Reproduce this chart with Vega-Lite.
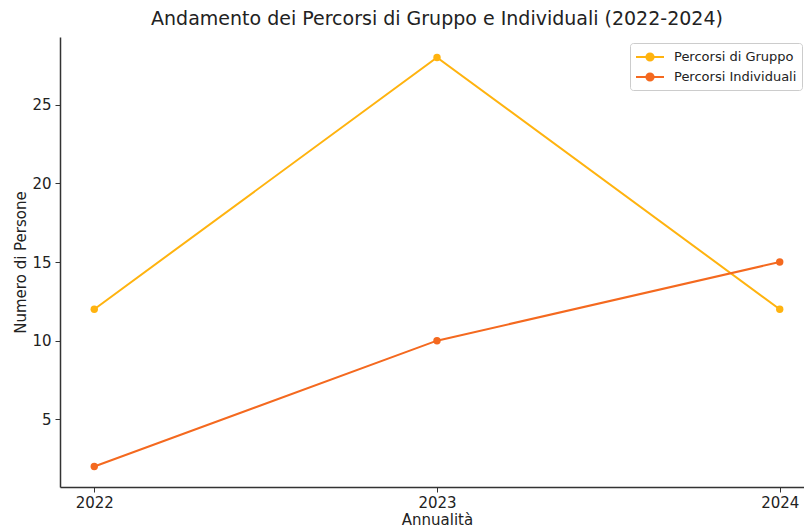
{
  "$schema": "https://vega.github.io/schema/vega-lite/v6.json",
  "width": 754,
  "height": 450,
  "autosize": {"type": "none"},
  "padding": {"left": 60, "top": 37, "right": 0, "bottom": 40},
  "background": "white",
  "title": {
    "text": "Andamento dei Percorsi di Gruppo e Individuali (2022-2024)",
    "font": "DejaVu Sans",
    "fontSize": 19,
    "fontWeight": "normal",
    "color": "#222222",
    "anchor": "middle",
    "offset": 8
  },
  "config": {
    "view": {"stroke": null},
    "axis": {
      "labelFont": "DejaVu Sans",
      "titleFont": "DejaVu Sans",
      "labelFontSize": 15,
      "titleFontSize": 15,
      "titleFontWeight": "normal",
      "labelColor": "#222222",
      "titleColor": "#222222",
      "domainColor": "#333333",
      "domainWidth": 1.5,
      "tickColor": "#333333",
      "tickSize": 5,
      "tickWidth": 1,
      "grid": false
    }
  },
  "data": {
    "values": [
      {"anno": 2022, "serie": "Percorsi di Gruppo", "persone": 12},
      {"anno": 2023, "serie": "Percorsi di Gruppo", "persone": 28},
      {"anno": 2024, "serie": "Percorsi di Gruppo", "persone": 12},
      {"anno": 2022, "serie": "Percorsi Individuali", "persone": 2},
      {"anno": 2023, "serie": "Percorsi Individuali", "persone": 10},
      {"anno": 2024, "serie": "Percorsi Individuali", "persone": 15}
    ]
  },
  "encoding": {
    "x": {
      "field": "anno",
      "type": "quantitative",
      "scale": {"domain": [2021.9, 2024.1], "nice": false, "zero": false},
      "axis": {"values": [2022, 2023, 2024], "format": "d", "title": "Annualità", "labelPadding": 3, "titlePadding": 2}
    },
    "y": {
      "field": "persone",
      "type": "quantitative",
      "scale": {"domain": [0.7, 29.3], "nice": false, "zero": false},
      "axis": {"values": [5, 10, 15, 20, 25], "title": "Numero di Persone", "labelPadding": 4, "titlePadding": 3}
    },
    "color": {
      "field": "serie",
      "type": "nominal",
      "scale": {"domain": ["Percorsi di Gruppo", "Percorsi Individuali"], "range": ["#FFB30F", "#F4691F"]},
      "legend": {
        "title": null,
        "orient": "none",
        "legendX": 570,
        "legendY": 6,
        "padding": 5,
        "strokeColor": "#cccccc",
        "fillColor": "white",
        "cornerRadius": 3,
        "labelFont": "DejaVu Sans",
        "labelFontSize": 13,
        "labelColor": "#222222",
        "labelOffset": 21,
        "symbolType": "M-1,0L2.5,0M0.3,0A0.45,0.45,0,1,1,1.2,0A0.45,0.45,0,1,1,0.3,0Z",
        "symbolSize": 256,
        "symbolStrokeWidth": 2,
        "rowPadding": 3
      }
    }
  },
  "layer": [
    {"mark": {"type": "line", "strokeWidth": 2}},
    {"mark": {"type": "point", "filled": true, "size": 55, "opacity": 1}}
  ]
}
